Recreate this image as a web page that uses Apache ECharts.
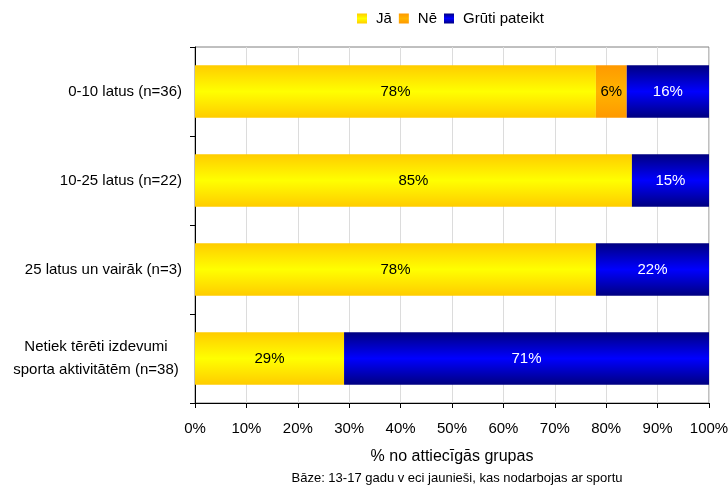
<!DOCTYPE html>
<html>
<head>
<meta charset="utf-8">
<script src="https://cdn.jsdelivr.net/npm/echarts@6/dist/echarts.min.js"></script>
<style>
  html, body { margin: 0; padding: 0; background: #ffffff; }
  #chart { width: 728px; height: 485px; }
</style>
</head>
<body>
<div id="chart"></div>
<script>
// Spending groups (top to bottom)
const categories = [
  '0-10 latus (n=36)',
  '10-25 latus (n=22)',
  '25 latus un vairāk (n=3)',
  'Netiek tērēti izdevumi\nsporta aktivitātēm (n=38)'
];
const seriesNames = ['Jā', 'Nē', 'Grūti pateikt'];
const yesValues = [78, 85, 78, 29];
const noValues = [6, 0, 0, 0];
const hardToSayValues = [16, 15, 22, 71];
const tickLabels = ['0%', '10%', '20%', '30%', '40%', '50%', '60%', '70%', '80%', '90%', '100%'];

const FONT = '"Liberation Sans", Arial, sans-serif';

function bandGradient(edge, mid) {
  return new echarts.graphic.LinearGradient(0, 0, 0, 1, [
    { offset: 0, color: edge },
    { offset: 0.5, color: mid },
    { offset: 1, color: edge }
  ]);
}

const fills = [
  bandGradient('#FFCC00', '#FFFF00'),
  bandGradient('#FF9900', '#FFB400'),
  bandGradient('#000080', '#0000FF')
];
const labelColors = ['#000000', '#000000', '#ffffff'];
const valueSets = [yesValues, noValues, hardToSayValues];

const chart = echarts.init(document.getElementById('chart'), null, { renderer: 'canvas' });

const series = seriesNames.map((name, i) => ({
  name: name,
  type: 'bar',
  stack: 'total',
  barCategoryGap: '41%',
  data: valueSets[i].map(v => (v === 0 ? null : v)),
  itemStyle: { color: fills[i] },
  label: {
    show: true,
    position: 'inside',
    formatter: p => p.value + '%',
    color: labelColors[i],
    fontFamily: FONT,
    fontSize: 15
  },
  emphasis: { disabled: true }
}));

chart.setOption({
  animation: false,
  backgroundColor: '#ffffff',
  textStyle: { fontFamily: FONT },
  title: {
    text: 'Bāze: 13-17 gadu v eci jaunieši, kas nodarbojas ar sportu',
    left: 452,
    textAlign: 'center',
    top: 467,
    textStyle: { fontFamily: FONT, fontSize: 13, fontWeight: 'normal', color: '#000000' }
  },
  legend: {
    top: 6,
    left: 352,
    itemWidth: 10,
    itemHeight: 10,
    itemGap: 7,
    icon: 'rect',
    data: seriesNames,
    textStyle: { fontFamily: FONT, fontSize: 15, color: '#000000', padding: [0, 0, 0, 4] }
  },
  grid: {
    left: 195,
    right: 19,
    top: 47,
    bottom: 82,
    outerBoundsMode: 'none',
    show: true,
    borderColor: '#808080',
    borderWidth: 1
  },
  xAxis: {
    type: 'value',
    min: 0,
    max: 100,
    interval: 10,
    name: '% no attiecīgās grupas',
    nameLocation: 'middle',
    nameGap: 46,
    nameTextStyle: { fontFamily: FONT, fontSize: 16, color: '#000000' },
    axisLine: { show: true, lineStyle: { color: '#000000', width: 1 } },
    axisTick: { show: true, length: 5, lineStyle: { color: '#000000' } },
    axisLabel: {
      formatter: v => tickLabels[Math.round(v / 10)],
      margin: 18,
      fontFamily: FONT,
      fontSize: 15,
      color: '#000000'
    },
    splitLine: { show: true, lineStyle: { color: '#dcdcdc', width: 1 } }
  },
  yAxis: {
    type: 'category',
    inverse: true,
    data: categories,
    axisLine: { show: true, lineStyle: { color: '#000000', width: 1 } },
    axisTick: { show: true, length: 5, lineStyle: { color: '#000000' } },
    axisLabel: {
      margin: 13,
      fontFamily: FONT,
      fontSize: 15,
      color: '#000000',
      lineHeight: 23,
      formatter: v => v.indexOf('\n') >= 0
        ? v.split('\n').map(s => '{c|' + s + '}').join('\n')
        : v,
      rich: {
        c: { align: 'center', width: 172, fontFamily: FONT, fontSize: 15, lineHeight: 23, color: '#000000' }
      }
    }
  },
  series: series
});
</script>
</body>
</html>
